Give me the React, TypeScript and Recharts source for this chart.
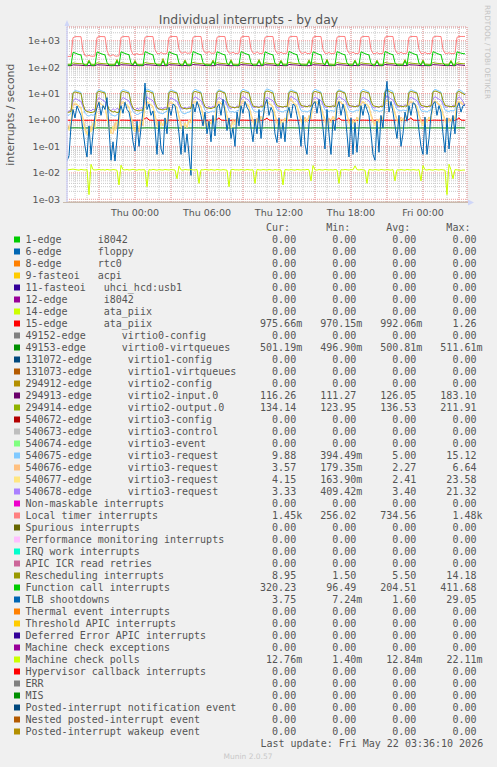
import React from 'react';
import { LineChart, Line, XAxis, YAxis, CartesianGrid } from 'recharts';

// ---------- axes / categories ----------
const T_START = -5.6667; // hours relative to Thu 00:00
const T_END = 27.6667;
const STEP = 1 / 6; // 10 minutes
const xTickHours = [0, 6, 12, 18, 24];
const xTickLabels = ['Thu 00:00', 'Thu 06:00', 'Thu 12:00', 'Thu 18:00', 'Fri 00:00'];
const minorHours = [-5, -4, -3, -2, -1, 0, 1, 2, 3, 4, 5, 6, 7, 8, 9, 10, 11, 12, 13, 14, 15, 16, 17, 18, 19, 20, 21, 22, 23, 24, 25, 26, 27];
const majorHours = [-3, 0, 3, 6, 9, 12, 15, 18, 21, 24, 27];
const yDecades = [0.001, 0.01, 0.1, 1, 10, 100, 1000];
const yTickLabels = ['1e-03', '1e-02', '1e-01', '1e+00', '1e+01', '1e+02', '1e+03'];
const yMinorMultipliers = [2, 3, 4, 5, 6, 7, 8, 9];
const Y_DOMAIN: [number, number] = [0.00079, 3304];

// ---------- series values (10-minute samples) ----------
const timer = [
  250, 256, 252,
  1300, 1420, 1430, 1425, 1415, 420, 270, 262, 280, 260, 258, 265,
  1320, 1430, 1440, 1430, 1420, 430, 268, 265, 300, 262, 260, 270,
  1330, 1430, 1440, 1435, 1420, 450, 300, 295, 330, 298, 305, 310,
  1350, 1440, 1450, 1440, 1430, 470, 330, 320, 360, 325, 318, 330,
  1340, 1440, 1450, 1445, 1430, 480, 345, 340, 380, 335, 340, 345,
  1350, 1445, 1455, 1450, 1435, 480, 350, 340, 390, 338, 335, 342,
  1345, 1440, 1450, 1445, 1430, 470, 345, 335, 370, 330, 332, 340,
  1350, 1445, 1455, 1450, 1440, 480, 340, 330, 380, 335, 328, 338,
  1340, 1440, 1450, 1445, 1430, 470, 338, 335, 365, 330, 332, 336,
  1350, 1445, 1455, 1450, 1435, 480, 342, 332, 375, 328, 330, 340,
  1345, 1440, 1450, 1445, 1430, 470, 335, 330, 360, 325, 330, 335,
  1350, 1445, 1455, 1450, 1440, 475, 340, 332, 370, 330, 328, 338,
  1340, 1440, 1450, 1445, 1430, 470, 330, 325, 355, 322, 326, 332,
  1350, 1445, 1460, 1450, 1440, 480, 338, 330, 365, 328, 330, 336,
  1345, 1440, 1450, 1445, 1430, 470, 332, 328, 360, 325, 328, 334,
  1350, 1445, 1480, 1450, 1440, 475, 335, 330, 350, 328, 326, 330,
  1340, 1440, 1450, 1448, 1450,
];

const funcCall = [
  118, 120, 117,
  360, 345, 320, 300, 290, 135, 118, 116, 165, 119, 117, 118,
  375, 350, 325, 305, 290, 150, 120, 117, 119, 118, 170, 118,
  380, 355, 330, 310, 295, 140, 118, 160, 120, 117, 119, 116,
  385, 360, 330, 310, 290, 145, 121, 118, 119, 175, 118, 117,
  380, 350, 325, 305, 290, 140, 119, 117, 168, 120, 118, 119,
  390, 360, 335, 310, 295, 150, 122, 118, 120, 119, 165, 118,
  380, 355, 330, 305, 290, 140, 120, 170, 119, 118, 117, 120,
  385, 360, 330, 310, 292, 145, 119, 118, 121, 172, 118, 117,
  380, 350, 325, 305, 290, 140, 118, 117, 165, 119, 120, 118,
  395, 365, 335, 312, 295, 150, 121, 119, 120, 118, 168, 119,
  380, 355, 330, 305, 290, 142, 119, 175, 118, 120, 117, 118,
  385, 360, 332, 308, 292, 146, 120, 118, 119, 170, 118, 119,
  380, 352, 326, 305, 290, 140, 118, 117, 166, 119, 118, 117,
  390, 362, 335, 310, 295, 148, 121, 119, 120, 118, 172, 118,
  382, 355, 330, 306, 291, 142, 119, 168, 118, 120, 117, 119,
  386, 358, 331, 309, 293, 145, 120, 118, 119, 165, 118, 117,
  380, 355, 340, 325, 320,
];

const virtio2Output = [
  128, 130, 129,
  145, 140, 138, 136, 135, 132, 129, 128, 185, 130, 128, 129,
  146, 141, 138, 136, 134, 133, 130, 128, 129, 130, 195, 129,
  148, 142, 139, 137, 135, 131, 129, 180, 130, 128, 129, 128,
  150, 143, 140, 137, 136, 133, 131, 129, 130, 211, 129, 128,
  147, 141, 138, 136, 135, 132, 130, 128, 188, 130, 129, 130,
  152, 144, 140, 138, 136, 134, 131, 129, 130, 129, 185, 129,
  148, 142, 139, 137, 135, 132, 130, 192, 129, 130, 128, 130,
  150, 143, 140, 137, 136, 133, 130, 129, 131, 195, 129, 128,
  147, 141, 138, 136, 135, 132, 129, 128, 182, 130, 131, 129,
  153, 145, 141, 138, 136, 134, 131, 130, 130, 129, 190, 130,
  148, 142, 139, 137, 135, 132, 130, 198, 129, 131, 128, 129,
  150, 143, 140, 137, 136, 133, 131, 129, 130, 186, 129, 130,
  147, 141, 138, 136, 135, 131, 129, 128, 184, 130, 129, 128,
  151, 144, 140, 138, 136, 134, 131, 130, 131, 129, 192, 129,
  148, 142, 139, 137, 135, 132, 130, 188, 129, 131, 128, 130,
  150, 143, 140, 137, 136, 133, 131, 129, 130, 180, 129, 128,
  145, 140, 137, 135, 134,
];

const virtio2Input = [
  113, 114, 113,
  122, 121, 120, 119, 118, 116, 114, 113, 115, 114, 113, 114,
  123, 122, 121, 120, 119, 116, 115, 113, 114, 115, 113, 114,
  124, 122, 121, 120, 119, 117, 114, 114, 115, 113, 114, 113,
  125, 123, 122, 120, 119, 117, 115, 113, 114, 115, 114, 113,
  124, 122, 121, 120, 119, 116, 114, 113, 116, 114, 113, 115,
  126, 123, 122, 121, 119, 117, 115, 114, 115, 113, 114, 114,
  124, 122, 121, 120, 119, 116, 114, 113, 114, 115, 113, 114,
  125, 123, 122, 120, 119, 117, 115, 114, 115, 114, 113, 115,
  124, 122, 121, 120, 119, 116, 114, 113, 116, 114, 114, 113,
  126, 124, 122, 121, 120, 117, 115, 114, 115, 113, 114, 115,
  124, 122, 121, 120, 119, 116, 114, 115, 114, 113, 115, 114,
  125, 123, 122, 120, 119, 117, 115, 113, 114, 116, 114, 113,
  124, 122, 121, 120, 119, 116, 114, 113, 115, 114, 113, 114,
  126, 124, 122, 121, 120, 117, 115, 114, 116, 114, 115, 114,
  124, 122, 121, 120, 119, 116, 114, 113, 115, 114, 113, 115,
  125, 123, 122, 120, 119, 117, 115, 114, 114, 115, 114, 113,
  124, 122, 120, 118, 116.26,
];

const rescheduling = [
  1.9, 2.0, 2.1,
  10.5, 11.5, 11, 10.5, 10, 4, 2.4, 2.1, 2.0, 1.9, 2.0, 2.1,
  11, 12, 11.5, 11, 10.5, 4.2, 2.5, 2.2, 2.0, 2.1, 1.9, 2.0,
  11, 12, 11.5, 11, 10.5, 4.5, 2.8, 2.4, 2.3, 2.2, 2.4, 2.3,
  11.5, 12.5, 12, 11, 10.5, 4.8, 3.0, 2.6, 2.5, 2.4, 2.6, 2.5,
  11, 12, 11.5, 11, 10.5, 5, 3.1, 2.8, 2.7, 2.6, 2.8, 2.7,
  11, 12, 11.5, 11, 10.5, 5, 3.2, 2.9, 2.8, 2.7, 2.9, 3.0,
  11, 12.5, 12, 11, 10.5, 5.2, 3.4, 3.1, 3.0, 2.9, 3.1, 3.0,
  11, 12, 11.5, 11, 10.5, 5.3, 3.4, 3.2, 3.1, 3.0, 3.2, 3.1,
  11.5, 12.5, 12, 11, 10.5, 5.2, 3.5, 3.3, 3.2, 3.1, 3.3, 3.2,
  11, 12, 11.5, 11, 10.5, 5.4, 3.6, 3.4, 3.3, 3.2, 3.4, 3.3,
  11, 12, 11.5, 11, 10.5, 5.3, 3.5, 3.3, 3.2, 3.3, 3.4, 3.2,
  11.5, 12.5, 12, 11, 10.5, 5.5, 3.6, 3.4, 3.3, 3.2, 3.3, 3.4,
  11, 12, 11.5, 11, 10.5, 5.3, 3.5, 3.3, 3.2, 3.1, 3.3, 3.2,
  11.5, 14, 12, 11, 10.5, 5.6, 3.7, 3.4, 3.3, 3.2, 3.4, 3.3,
  11, 12, 11.5, 11, 10.5, 5.4, 3.6, 3.4, 3.3, 3.2, 3.3, 3.4,
  11.5, 12.5, 12, 11, 10.5, 5.5, 3.6, 3.4, 3.3, 3.2, 3.3, 3.2,
  11, 12, 11, 10, 8.95,
];

const req675 = [
  1.6, 1.5, 1.8,
  11, 13, 12.5, 12, 11, 3.2, 1.8, 1.5, 1.4, 1.6, 1.5, 1.7,
  12, 14, 13, 12, 11.5, 3.5, 2.0, 1.6, 1.5, 1.4, 1.6, 1.8,
  12.5, 14, 13.5, 12.5, 11.5, 3.4, 2.1, 1.8, 1.6, 1.7, 1.9, 2.0,
  13, 15, 14, 12.5, 12, 3.6, 2.2, 1.9, 1.8, 1.7, 2.0, 2.1,
  12, 14, 13, 12, 11, 3.5, 2.1, 1.8, 1.7, 1.9, 2.0, 2.2,
  12.5, 14.5, 13.5, 12.5, 11.5, 3.8, 2.3, 2.0, 1.9, 2.1, 2.2, 2.0,
  12, 14, 13, 12, 11, 3.6, 2.2, 2.0, 2.1, 1.9, 2.3, 2.2,
  12.5, 14.5, 13.5, 12.5, 11.5, 3.7, 2.4, 2.1, 2.0, 2.2, 2.1, 2.3,
  13, 15.1, 14, 13, 12, 3.8, 2.4, 2.2, 2.1, 2.0, 2.3, 2.2,
  12, 14, 13, 12, 11, 3.6, 2.3, 2.1, 2.2, 2.0, 2.2, 2.4,
  12.5, 14.5, 13.5, 12.5, 11.5, 3.7, 2.4, 2.2, 2.1, 2.3, 2.2, 2.1,
  12, 14, 13, 12, 11, 3.5, 2.3, 2.1, 2.0, 2.2, 2.4, 2.2,
  12.5, 14.5, 13.5, 12.5, 11.5, 3.8, 2.4, 2.2, 2.3, 2.1, 2.2, 2.3,
  13, 15, 14, 13, 12, 3.9, 2.5, 2.3, 2.2, 2.4, 2.3, 2.2,
  12, 14, 13, 12, 11, 3.6, 2.3, 2.1, 2.2, 2.0, 2.3, 2.4,
  12.5, 14.5, 13.5, 12.5, 11.5, 3.7, 2.4, 2.2, 2.1, 2.3, 2.2, 2.4,
  12, 14, 13, 11, 9.88,
];

const req676 = [
  0.8, 0.5, 0.6,
  3.5, 4, 3.8, 3.2, 2.8, 1.2, 0.5, 0.3, 0.25, 0.6, 0.4, 0.7,
  3.8, 4.2, 4, 3.4, 3, 1.3, 0.6, 0.35, 0.3, 0.8, 0.45, 0.9,
  4, 4.5, 4.2, 3.5, 3, 1.4, 0.7, 0.4, 0.6, 0.35, 0.9, 0.6,
  4.2, 4.8, 4.2, 3.6, 3.2, 1.5, 0.8, 0.5, 0.9, 0.6, 1.1, 0.7,
  4, 4.5, 4, 3.5, 3, 1.4, 0.7, 0.45, 0.8, 0.5, 1.0, 0.8,
  4.2, 5, 4.3, 3.6, 3.1, 1.6, 0.9, 0.6, 1.0, 0.7, 1.2, 0.9,
  4, 4.6, 4.1, 3.5, 3, 1.5, 0.8, 0.55, 1.1, 0.8, 1.3, 0.9,
  4.3, 5, 4.4, 3.7, 3.2, 1.7, 1.0, 0.7, 1.2, 0.8, 1.4, 1.0,
  4.1, 4.7, 4.2, 3.6, 3.1, 1.6, 0.9, 0.6, 1.1, 0.9, 1.2, 0.8,
  4.4, 6.6, 4.5, 3.8, 3.3, 1.8, 1.0, 0.7, 1.3, 0.9, 1.5, 1.1,
  4.2, 4.8, 4.3, 3.7, 3.2, 1.7, 1.1, 0.8, 1.2, 1.0, 1.4, 1.0,
  4.3, 5, 4.4, 3.7, 3.2, 1.6, 0.9, 0.6, 1.0, 0.8, 1.3, 0.9,
  4.1, 4.7, 4.2, 3.6, 3.1, 1.7, 1.0, 0.7, 1.1, 0.9, 1.4, 1.1,
  4.5, 5.2, 4.6, 3.9, 3.4, 1.8, 1.1, 0.8, 1.3, 1.0, 1.5, 1.2,
  4.2, 4.8, 4.3, 3.7, 3.2, 1.6, 1.0, 0.7, 1.2, 0.9, 1.3, 1.0,
  4.3, 5, 4.4, 3.8, 3.3, 1.7, 1.1, 0.8, 1.2, 1.0, 1.4, 1.1,
  4.2, 4.8, 4.3, 3.8, 3.57,
];

const req677 = [
  0.6, 0.4, 0.9,
  4, 4.5, 4, 3.4, 3, 1.0, 0.4, 0.28, 0.5, 0.35, 0.8, 0.5,
  4.2, 4.8, 4.2, 3.5, 3, 1.1, 0.45, 0.3, 0.6, 0.4, 0.9, 0.6,
  4.5, 5, 4.4, 3.7, 3.2, 1.2, 0.5, 0.35, 0.7, 0.5, 1.0, 0.7,
  4.6, 5.2, 4.5, 3.8, 3.3, 1.3, 0.6, 0.45, 0.8, 0.6, 1.1, 0.8,
  4.4, 5, 4.3, 3.6, 3.1, 1.2, 0.55, 0.4, 0.75, 0.55, 1.0, 0.75,
  4.7, 5.3, 4.6, 3.9, 3.4, 1.4, 0.7, 0.5, 0.9, 0.7, 1.2, 0.9,
  4.5, 5.1, 4.4, 3.7, 3.2, 1.3, 0.65, 0.5, 0.85, 0.65, 1.1, 0.8,
  4.8, 5.5, 4.7, 4, 3.5, 1.5, 0.8, 0.6, 1.0, 0.8, 1.3, 1.0,
  4.6, 5.2, 4.5, 3.8, 3.3, 1.4, 0.7, 0.55, 0.9, 0.7, 1.2, 0.9,
  4.9, 5.6, 4.8, 4.1, 3.6, 1.6, 0.85, 0.65, 1.1, 0.85, 1.4, 1.1,
  4.7, 5.3, 4.6, 3.9, 3.4, 1.5, 0.8, 0.6, 1.0, 0.8, 1.3, 1.0,
  4.8, 5.4, 4.7, 4, 3.5, 1.5, 0.75, 0.55, 0.95, 0.75, 1.25, 0.95,
  4.6, 5.2, 4.5, 3.8, 3.3, 1.4, 0.8, 0.6, 1.0, 0.8, 1.3, 1.0,
  5, 5.6, 4.8, 4.1, 3.6, 1.6, 0.9, 0.7, 1.1, 0.9, 1.4, 1.1,
  4.7, 5.3, 4.6, 3.9, 3.4, 1.5, 0.8, 0.6, 1.0, 0.8, 1.3, 1.0,
  4.8, 5.4, 4.7, 4, 3.5, 1.5, 0.85, 0.65, 1.05, 0.85, 1.35, 1.05,
  4.7, 5.3, 4.6, 4.3, 4.15,
];

const req678 = [
  2.0, 2.2, 2.4,
  5, 6.5, 6, 5.5, 5, 3.2, 2.4, 2.1, 2.5, 2.2, 2.6, 2.3,
  5.5, 7, 6.2, 5.6, 5, 3.4, 2.5, 2.2, 2.7, 2.3, 2.8, 2.4,
  5.6, 7.2, 6.4, 5.8, 5.2, 3.5, 2.6, 2.4, 2.8, 2.5, 3.0, 2.6,
  5.8, 7.5, 6.5, 6, 5.3, 3.6, 2.8, 2.5, 3.0, 2.6, 3.1, 2.8,
  5.5, 7, 6.2, 5.7, 5.1, 3.5, 2.7, 2.6, 3.1, 2.7, 3.2, 2.9,
  6, 7.6, 6.8, 6, 5.4, 3.8, 3.0, 2.8, 3.3, 2.9, 3.4, 3.1,
  5.7, 7.2, 6.4, 5.8, 5.2, 3.7, 2.9, 2.7, 3.2, 2.8, 3.5, 3.0,
  6.1, 7.8, 6.9, 6.1, 5.5, 3.9, 3.1, 2.9, 3.4, 3.0, 3.6, 3.2,
  5.8, 7.3, 6.5, 5.9, 5.3, 3.8, 3.0, 2.8, 3.3, 2.9, 3.4, 3.1,
  6.2, 8, 7, 6.2, 5.6, 4.0, 3.2, 3.0, 3.5, 3.1, 3.7, 3.3,
  5.9, 7.4, 6.6, 6, 5.4, 3.9, 3.1, 2.9, 3.4, 3.0, 3.6, 3.2,
  6.1, 7.7, 6.8, 6.1, 5.5, 4.0, 3.2, 3.0, 3.5, 3.1, 3.6, 3.3,
  5.8, 7.3, 6.5, 5.9, 5.3, 3.8, 3.0, 2.8, 3.3, 2.9, 3.5, 3.1,
  6.3, 8.1, 7.1, 6.3, 5.7, 4.1, 3.3, 3.1, 3.6, 3.2, 3.8, 3.4,
  5.9, 7.4, 6.6, 6, 5.4, 3.9, 3.1, 2.9, 3.4, 3.0, 3.6, 3.2,
  6.1, 7.7, 6.8, 6.1, 5.5, 4.0, 3.2, 3.0, 3.5, 3.1, 3.6, 3.3,
  6, 7.5, 6.6, 5, 3.33,
];

const tlb = [
  0.028, 0.045, 0.6,
  2.5, 1.2, 3.4, 2.2, 1.5, 0.4, 0.1, 0.04, 0.6, 0.05, 0.3, 1.5,
  3, 4.7, 1.5, 3.5, 2.5, 7, 0.5, 0.03, 0.15, 0.028, 0.2, 1.8,
  3.5, 1.8, 4.7, 2.5, 2, 0.8, 0.15, 0.067, 0.9, 0.1, 0.5, 2.2,
  25, 2.5, 4, 1.5, 2.2, 0.5, 0.05, 0.9, 0.08, 0.05, 1.2, 0.3,
  3, 1.5, 4, 3.5, 1.2, 0.3, 0.05, 0.6, 0.06, 0.3, 0.05, 0.008,
  4, 2, 5, 3, 1.5, 0.6, 2.0, 0.3, 0.9, 0.15, 1.5, 0.25,
  3, 4, 1.5, 6, 2, 0.4, 1.2, 0.2, 0.5, 0.1, 2, 0.6,
  3.5, 1.8, 5, 3, 2.2, 0.5, 0.15, 1.1, 0.3, 2.5, 0.2, 1.2,
  4, 6, 1.5, 3, 2, 0.3, 0.14, 1.2, 0.2, 0.8, 0.15, 1.8,
  3, 1.2, 4, 3.5, 1.5, 0.6, 0.1, 1.5, 0.12, 0.05, 0.7, 2.2,
  4, 5, 1.8, 6, 2, 0.5, 0.08, 2.5, 0.3, 0.05, 1.0, 0.4,
  3, 5, 1.5, 4, 2, 0.3, 0.04, 1.2, 0.05, 0.8, 0.06, 0.5,
  3.5, 1.5, 4, 2.5, 1.5, 0.3, 0.05, 0.03, 0.9, 0.06, 1.5, 0.5,
  6, 29, 2, 5, 2, 0.6, 0.2, 1.5, 0.1, 0.3, 2, 0.9,
  3.5, 1.5, 4.5, 4, 2, 0.4, 0.1, 0.05, 1.3, 0.05, 0.2, 1.5,
  4, 5, 1.5, 3.5, 2, 0.3, 0.06, 1.2, 0.08, 0.4, 1.5, 0.3,
  3, 4.5, 2, 3.5, 3.75,
];

const irq15 = [
  0.98, 0.98, 0.97,
  0.98, 0.99, 0.98, 0.98, 0.97, 0.98, 0.98, 0.97, 0.98, 0.98, 0.97, 0.98,
  0.98, 0.99, 0.98, 0.98, 0.97, 0.98, 0.98, 0.97, 0.98, 0.98, 0.97, 0.98,
  0.98, 0.99, 0.98, 0.98, 0.97, 0.98, 0.98, 0.97, 0.98, 0.98, 0.97, 0.98,
  1.15, 1.22, 0.99, 0.98, 0.97, 0.98, 0.98, 0.97, 0.98, 0.98, 0.97, 0.98,
  0.98, 0.99, 0.98, 0.98, 0.97, 0.98, 0.98, 0.97, 0.98, 0.98, 0.97, 0.98,
  0.98, 0.99, 0.98, 0.98, 0.97, 0.98, 0.98, 0.97, 0.98, 0.98, 0.97, 0.98,
  1.05, 1.2, 0.99, 0.98, 0.97, 0.98, 0.98, 0.97, 0.98, 0.98, 0.97, 0.98,
  0.98, 0.99, 0.98, 0.98, 0.97, 0.98, 0.98, 0.97, 0.98, 0.98, 0.97, 0.98,
  1.05, 1.18, 0.99, 0.98, 0.97, 0.98, 0.98, 0.97, 0.98, 0.98, 0.97, 0.98,
  0.98, 0.99, 0.98, 0.98, 0.97, 0.98, 0.98, 0.97, 0.98, 0.98, 0.97, 0.98,
  0.98, 0.99, 0.98, 0.98, 0.97, 0.98, 0.98, 0.97, 0.98, 0.98, 0.97, 0.98,
  1.05, 1.2, 0.99, 0.98, 0.97, 0.98, 0.98, 0.97, 0.98, 0.98, 0.97, 0.98,
  0.98, 0.99, 0.98, 0.98, 0.97, 0.98, 0.98, 0.97, 0.98, 0.98, 0.97, 0.98,
  0.98, 0.99, 0.98, 0.98, 0.97, 0.98, 0.98, 0.97, 0.98, 0.98, 0.97, 0.98,
  1.05, 1.22, 0.99, 0.98, 0.97, 0.98, 0.98, 0.97, 0.98, 0.98, 0.97, 0.98,
  0.98, 0.99, 0.98, 0.98, 0.97, 0.98, 0.98, 0.97, 0.98, 0.98, 0.97, 0.98,
  1.05, 1.2, 0.99, 0.98, 0.976,
];

const irq49153 = [
  0.499, 0.500, 0.501,
  0.503, 0.505, 0.504, 0.502, 0.501, 0.500, 0.499, 0.498, 0.500, 0.499, 0.500, 0.499,
  0.503, 0.504, 0.503, 0.502, 0.501, 0.500, 0.499, 0.500, 0.498, 0.499, 0.500, 0.499,
  0.504, 0.505, 0.503, 0.502, 0.501, 0.499, 0.500, 0.499, 0.498, 0.500, 0.499, 0.500,
  0.503, 0.506, 0.504, 0.502, 0.501, 0.500, 0.499, 0.498, 0.500, 0.499, 0.500, 0.499,
  0.503, 0.505, 0.504, 0.502, 0.501, 0.500, 0.499, 0.498, 0.500, 0.499, 0.500, 0.499,
  0.504, 0.505, 0.503, 0.502, 0.501, 0.499, 0.500, 0.499, 0.498, 0.500, 0.499, 0.500,
  0.503, 0.504, 0.503, 0.502, 0.501, 0.500, 0.499, 0.500, 0.498, 0.499, 0.500, 0.499,
  0.503, 0.506, 0.504, 0.502, 0.501, 0.500, 0.499, 0.498, 0.500, 0.499, 0.500, 0.499,
  0.504, 0.505, 0.503, 0.502, 0.501, 0.499, 0.500, 0.499, 0.498, 0.500, 0.499, 0.500,
  0.503, 0.505, 0.504, 0.502, 0.501, 0.500, 0.499, 0.498, 0.500, 0.499, 0.500, 0.499,
  0.503, 0.504, 0.503, 0.502, 0.501, 0.500, 0.499, 0.500, 0.498, 0.499, 0.500, 0.499,
  0.504, 0.505, 0.503, 0.502, 0.501, 0.499, 0.500, 0.499, 0.498, 0.500, 0.499, 0.500,
  0.503, 0.506, 0.504, 0.502, 0.501, 0.500, 0.499, 0.498, 0.500, 0.499, 0.500, 0.499,
  0.503, 0.505, 0.504, 0.502, 0.501, 0.500, 0.499, 0.498, 0.500, 0.499, 0.500, 0.499,
  0.504, 0.505, 0.503, 0.502, 0.501, 0.499, 0.500, 0.499, 0.498, 0.500, 0.499, 0.500,
  0.503, 0.504, 0.503, 0.502, 0.501, 0.500, 0.499, 0.500, 0.498, 0.499, 0.500, 0.499,
  0.503, 0.505, 0.504, 0.502, 0.501,
];

const mcPolls = [
  0.0128, 0.0132, 0.0135,
  0.0138, 0.0134, 0.0130, 0.0127, 0.0135, 0.0131, 0.0128, 0.0133, 0.0015, 0.0210, 0.0132, 0.0129,
  0.0131, 0.0136, 0.0129, 0.0133, 0.0127, 0.0135, 0.0130, 0.0128, 0.0134, 0.0131, 0.0126, 0.0035,
  0.0195, 0.0132, 0.0129, 0.0134, 0.0128, 0.0131, 0.0136, 0.0130, 0.0127, 0.0133, 0.0129, 0.0132,
  0.0130, 0.0030, 0.0134, 0.0128, 0.0135, 0.0131, 0.0127, 0.0133, 0.0130, 0.0128, 0.0134, 0.0131,
  0.0129, 0.0133, 0.0131, 0.0128, 0.0060, 0.0180, 0.0130, 0.0127, 0.0134, 0.0131, 0.0129, 0.0133,
  0.0130, 0.0128, 0.0135, 0.0040, 0.0132, 0.0129, 0.0134, 0.0131, 0.0128, 0.0133, 0.0130, 0.0127,
  0.0134, 0.0131, 0.0128, 0.0133, 0.0130, 0.0127, 0.0030, 0.0132, 0.0135, 0.0129, 0.0131, 0.0128,
  0.0133, 0.0130, 0.0127, 0.0134, 0.0131, 0.0128, 0.0132, 0.0040, 0.0135, 0.0130, 0.0128, 0.0133,
  0.0131, 0.0128, 0.0134, 0.0130, 0.0127, 0.0133, 0.0129, 0.0132, 0.0128, 0.0035, 0.0134, 0.0131,
  0.0128, 0.0133, 0.0130, 0.0127, 0.0134, 0.0131, 0.0128, 0.0132, 0.0129, 0.0135, 0.0131, 0.0050,
  0.0190, 0.0130, 0.0127, 0.0133, 0.0130, 0.0128, 0.0134, 0.0131, 0.0129, 0.0132, 0.0128, 0.0134,
  0.0130, 0.0040, 0.0133, 0.0129, 0.0134, 0.0131, 0.0128, 0.0133, 0.0130, 0.0185, 0.0132, 0.0129,
  0.0133, 0.0130, 0.0127, 0.0040, 0.0134, 0.0131, 0.0128, 0.0133, 0.0130, 0.0127, 0.0134, 0.0131,
  0.0128, 0.0133, 0.0130, 0.0127, 0.0134, 0.0050, 0.0131, 0.0128, 0.0133, 0.0130, 0.0127, 0.0134,
  0.0131, 0.0128, 0.0133, 0.0130, 0.0127, 0.0134, 0.0050, 0.0190, 0.0131, 0.0128, 0.0133, 0.0130,
  0.0127, 0.0134, 0.0131, 0.0128, 0.0133, 0.0130, 0.0127, 0.0015, 0.0210, 0.0131, 0.0060, 0.0133,
  0.0130, 0.0127, 0.0125, 0.0128, 0.0128,
];

// ---------- legend ----------
const legendLabels = [
  '1-edge      i8042', '6-edge      floppy', '8-edge      rtc0', '9-fasteoi   acpi',
  '11-fasteoi   uhci_hcd:usb1', '12-edge      i8042', '14-edge      ata_piix', '15-edge      ata_piix',
  '49152-edge      virtio0-config', '49153-edge      virtio0-virtqueues',
  '131072-edge      virtio1-config', '131073-edge      virtio1-virtqueues',
  '294912-edge      virtio2-config', '294913-edge      virtio2-input.0', '294914-edge      virtio2-output.0',
  '540672-edge      virtio3-config', '540673-edge      virtio3-control', '540674-edge      virtio3-event',
  '540675-edge      virtio3-request', '540676-edge      virtio3-request', '540677-edge      virtio3-request',
  '540678-edge      virtio3-request',
  'Non-maskable interrupts', 'Local timer interrupts', 'Spurious interrupts', 'Performance monitoring interrupts',
  'IRQ work interrupts', 'APIC ICR read retries', 'Rescheduling interrupts', 'Function call interrupts',
  'TLB shootdowns', 'Thermal event interrupts', 'Threshold APIC interrupts', 'Deferred Error APIC interrupts',
  'Machine check exceptions', 'Machine check polls', 'Hypervisor callback interrupts', 'ERR', 'MIS',
  'Posted-interrupt notification event', 'Nested posted-interrupt event', 'Posted-interrupt wakeup event',
];
const legendColors = [
  '#00CC00', '#0066B3', '#FF8000', '#FFCC00', '#330099', '#990099', '#CCFF00', '#FF0000',
  '#808080', '#008F00', '#00487D', '#B35A00', '#B38F00', '#6B006B', '#8FB300', '#B30000',
  '#BEBEBE', '#80FF80', '#80C9FF', '#FFC080', '#FFE680', '#AA80FF', '#EE00CC', '#FF8080',
  '#666600', '#FFBFFF', '#00FFCC', '#CC6699', '#999900', '#00CC00', '#0066B3', '#FF8000',
  '#FFCC00', '#330099', '#990099', '#CCFF00', '#FF0000', '#808080', '#008F00', '#00487D',
  '#B35A00', '#B38F00',
];
const curVals = [
  '0.00', '0.00', '0.00', '0.00', '0.00', '0.00', '0.00', '975.66m',
  '0.00', '501.19m', '0.00', '0.00', '0.00', '116.26', '134.14',
  '0.00', '0.00', '0.00', '9.88', '3.57', '4.15', '3.33',
  '0.00', '1.45k', '0.00', '0.00', '0.00', '0.00', '8.95', '320.23',
  '3.75', '0.00', '0.00', '0.00', '0.00', '12.76m', '0.00', '0.00', '0.00', '0.00', '0.00', '0.00',
];
const minVals = [
  '0.00', '0.00', '0.00', '0.00', '0.00', '0.00', '0.00', '970.15m',
  '0.00', '496.90m', '0.00', '0.00', '0.00', '111.27', '123.95',
  '0.00', '0.00', '0.00', '394.49m', '179.35m', '163.90m', '409.42m',
  '0.00', '256.02', '0.00', '0.00', '0.00', '0.00', '1.50', '96.49',
  '7.24m', '0.00', '0.00', '0.00', '0.00', '1.40m', '0.00', '0.00', '0.00', '0.00', '0.00', '0.00',
];
const avgVals = [
  '0.00', '0.00', '0.00', '0.00', '0.00', '0.00', '0.00', '992.06m',
  '0.00', '500.81m', '0.00', '0.00', '0.00', '126.05', '136.53',
  '0.00', '0.00', '0.00', '5.00', '2.27', '2.41', '3.40',
  '0.00', '734.56', '0.00', '0.00', '0.00', '0.00', '5.50', '204.51',
  '1.60', '0.00', '0.00', '0.00', '0.00', '12.84m', '0.00', '0.00', '0.00', '0.00', '0.00', '0.00',
];
const maxVals = [
  '0.00', '0.00', '0.00', '0.00', '0.00', '0.00', '0.00', '1.26',
  '0.00', '511.61m', '0.00', '0.00', '0.00', '183.10', '211.91',
  '0.00', '0.00', '0.00', '15.12', '6.64', '23.58', '21.32',
  '0.00', '1.48k', '0.00', '0.00', '0.00', '0.00', '14.18', '411.68',
  '29.05', '0.00', '0.00', '0.00', '0.00', '22.11m', '0.00', '0.00', '0.00', '0.00', '0.00', '0.00',
];
const headers = ['Cur:', 'Min:', 'Avg:', 'Max:'];

// ---------- build table ----------
const chartData = timer.map((v, i) => ({
  t: T_START + i * STEP,
  irq15: irq15[i],
  irq49153: irq49153[i],
  v2in: virtio2Input[i],
  v2out: virtio2Output[i],
  r675: req675[i],
  r676: req676[i],
  r677: req677[i],
  r678: req678[i],
  timer: v,
  resched: rescheduling[i],
  funcCall: funcCall[i],
  tlb: tlb[i],
  mcPolls: mcPolls[i],
}));

const seriesOrder = [
  { key: 'irq15', color: '#FF0000' },
  { key: 'irq49153', color: '#008F00' },
  { key: 'v2in', color: '#6B006B' },
  { key: 'v2out', color: '#8FB300' },
  { key: 'r675', color: '#80C9FF' },
  { key: 'r676', color: '#FFC080' },
  { key: 'r677', color: '#FFE680' },
  { key: 'r678', color: '#AA80FF' },
  { key: 'timer', color: '#FF8080' },
  { key: 'resched', color: '#999900' },
  { key: 'funcCall', color: '#00CC00' },
  { key: 'tlb', color: '#0066B3' },
  { key: 'mcPolls', color: '#CCFF00' },
];

const yMinorTicks: number[] = [];
yDecades.forEach((d) => {
  yMinorMultipliers.forEach((m) => {
    const v = d * m;
    if (v < Y_DOMAIN[1]) yMinorTicks.push(v);
  });
});

const TEXT = '#555555';
const MONO = 'DejaVu Sans Mono';
const SANS = 'DejaVu Sans';
const COL_END = [302.2, 362.3, 422.4, 482.5];
const CHAR_W = 6.02;

export default function App() {
  return (
    <div style={{ position: 'absolute', left: 0, top: 0, width: 497, height: 767, background: '#F0F0F0', overflow: 'hidden' }}>
      <div style={{ position: 'absolute', left: 0, top: 0 }}>
        <LineChart width={497} height={235} data={chartData} margin={{ top: 27, right: 30, bottom: 8, left: 7 }}>
          <XAxis xAxisId="minor" dataKey="t" type="number" domain={[T_START, T_END]} ticks={minorHours} interval={0} allowDataOverflow hide />
          <XAxis xAxisId="major" dataKey="t" type="number" domain={[T_START, T_END]} ticks={majorHours} interval={0} allowDataOverflow hide />
          <YAxis yAxisId="minor" type="number" scale="log" domain={Y_DOMAIN} ticks={yMinorTicks} interval={0} allowDataOverflow hide />
          <CartesianGrid xAxisId="minor" yAxisId="minor" stroke="#C8C8C8" strokeDasharray="1 1" fill="#FFFFFF" fillOpacity={1} />
          <CartesianGrid xAxisId="major" yAxisId={0} stroke="#F29A9A" strokeDasharray="1 1" />
          <XAxis
            dataKey="t"
            type="number"
            domain={[T_START, T_END]}
            ticks={xTickHours}
            interval={0}
            allowDataOverflow
            height={25}
            tickLine={false}
            tickSize={0}
            tickMargin={7}
            axisLine={{ stroke: '#C9BBAE' }}
            tick={{ fill: TEXT, fontSize: 9.5, fontFamily: SANS }}
            tickFormatter={(v: number) => xTickLabels[xTickHours.indexOf(v)] ?? ''}
          />
          <YAxis
            type="number"
            scale="log"
            domain={Y_DOMAIN}
            ticks={yDecades}
            interval={0}
            allowDataOverflow
            width={60}
            tickLine={false}
            tickSize={0}
            tickMargin={7}
            axisLine={{ stroke: '#CFD6F8' }}
            tick={{ fill: TEXT, fontSize: 9.5, fontFamily: SANS }}
            tickFormatter={(v: number) => {
              const idx = yDecades.findIndex((d) => Math.abs(d - v) / d < 1e-6);
              return idx >= 0 ? yTickLabels[idx] : '';
            }}
          />
          {seriesOrder.map((s) => (
            <Line
              key={s.key}
              dataKey={s.key}
              type="linear"
              stroke={s.color}
              strokeWidth={1}
              dot={false}
              activeDot={false}
              isAnimationActive={false}
            />
          ))}
        </LineChart>
      </div>
      <svg width={497} height={767} style={{ position: 'absolute', left: 0, top: 0, pointerEvents: 'none' }}>
        {/* axis arrows */}
        <line x1={67} y1={202} x2={67} y2={24} stroke="#CFD6F8" strokeWidth={1} />
        <polygon points="64.5,26 69.5,26 67,20" fill="#CFD6F8" />
        <line x1={63} y1={202.5} x2={469} y2={202.5} stroke="#C9BBAE" strokeWidth={1} />
        <polygon points="468,199.5 468,205.5 474,202.5" fill="#CFD6F8" />
        {/* title */}
        <text x={248.5} y={24} textAnchor="middle" fontFamily={SANS} fontSize={12.4} fill={TEXT}>
          Individual interrupts - by day
        </text>
        {/* y label */}
        <text x={14.5} y={114.7} transform="rotate(-90 14.5 114.7)" textAnchor="middle" fontFamily={SANS} fontSize={10.8} fill={TEXT}>
          interrupts / second
        </text>
        {/* watermark */}
        <text x={485} y={5} transform="rotate(90 485 5)" textAnchor="start" fontFamily={SANS} fontSize={7.3} fill="#C4C4C4">
          RRDTOOL / TOBI OETIKER
        </text>
        {/* legend header */}
        {headers.map((h, c) => (
          <text key={h} x={COL_END[c] - 2 * CHAR_W} y={231} textAnchor="end" fontFamily={MONO} fontSize={10} fill={TEXT}>
            {h}
          </text>
        ))}
        {legendLabels.map((lab, r) => {
          const y = 243 + r * 12;
          const vals = [curVals[r], minVals[r], avgVals[r], maxVals[r]];
          return (
            <g key={r}>
              <rect x={14} y={y - 6.5} width={6} height={6} fill={legendColors[r]} />
              <text x={25.5} y={y} fontFamily={MONO} fontSize={10} fill={TEXT} xmlSpace="preserve" style={{ whiteSpace: 'pre' }}>
                {lab}
              </text>
              {vals.map((v, c) => (
                <text
                  key={c}
                  x={/[a-z]$/i.test(v) ? COL_END[c] : COL_END[c] - CHAR_W}
                  y={y}
                  textAnchor="end"
                  fontFamily={MONO}
                  fontSize={10}
                  fill={TEXT}
                >
                  {v}
                </text>
              ))}
            </g>
          );
        })}
        <text x={483.2} y={747} textAnchor="end" fontFamily={MONO} fontSize={10} fill={TEXT}>
          Last update: Fri May 22 03:36:10 2026
        </text>
        <text x={248} y={758.5} textAnchor="middle" fontFamily={SANS} fontSize={7.5} fill="#C8C8C8">
          Munin 2.0.57
        </text>
      </svg>
    </div>
  );
}
